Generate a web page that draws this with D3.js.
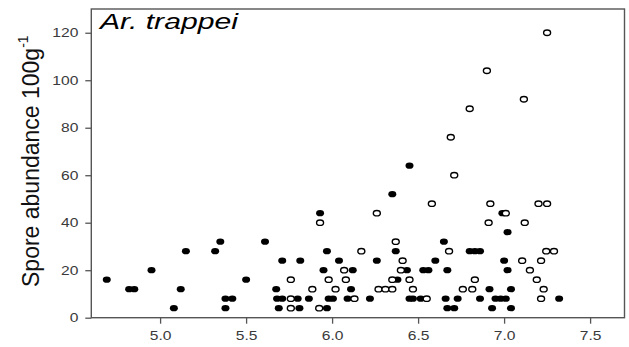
<!DOCTYPE html>
<html>
<head>
<meta charset="utf-8">
<script src="https://cdn.jsdelivr.net/npm/d3@7"></script>
<style>
  html, body { margin: 0; padding: 0; background: #fff; }
  svg { display: block; font-family: "Liberation Sans", Arial, sans-serif; }
</style>
</head>
<body>
<svg id="chart" width="629" height="347"></svg>
<script>
// ---- data (pH vs spore abundance) ----
const filledX = [4.69,4.82,4.85,4.95,5.08,5.12,5.15,5.32,5.35,5.38,5.42,5.38,5.50,5.61,5.675,5.68,5.71,5.69,5.71,5.815,
  5.80,5.81,5.865,5.93,5.97,5.95,5.98,6.005,5.97,6.04,6.12,6.11,6.09,6.22,6.26,6.35,6.45,6.37,6.38,6.435,
  6.45,6.47,6.515,6.53,6.56,6.60,6.65,6.67,6.66,6.67,6.71,6.73,6.80,6.83,6.86,6.86,6.915,6.95,6.98,7.01,
  6.93,6.99,7.02,7.00,7.02,7.04,7.04,7.32];
const filledY = [16,12,12,20,4,12,28,28,32,8,8,4,16,32,12,8,8,4,24,24,
  8,4,8,44,28,20,8,8,4,24,20,12,8,8,24,52,64,28,16,20,
  8,8,8,20,20,24,32,20,8,4,4,8,28,28,28,8,12,8,8,8,
  4,44,36,24,20,12,4,8];
const openX = [5.76,5.76,5.76,5.885,5.93,5.925,5.98,6.02,6.07,6.08,6.13,6.17,6.26,6.27,6.31,6.35,6.35,6.37,6.40,6.41,
  6.45,6.47,6.55,6.58,6.68,6.69,6.71,6.76,6.815,6.83,6.80,6.90,6.91,6.92,7.01,7.105,7.115,7.12,7.15,7.19,
  7.20,7.215,7.215,7.23,7.25,7.25,7.245,7.29];
const openY = [16,8,4,12,40,4,16,12,20,16,8,28,44,12,12,12,16,32,20,24,
  16,12,8,48,28,76,60,12,12,16,88,104,40,48,44,24,92,40,20,16,
  48,24,8,12,48,120,28,28];
const xTicks = [5.0,5.5,6.0,6.5,7.0,7.5];
const yTicks = [0,20,40,60,80,100,120];
const title = "Ar. trappei";
const yLabel = "Spore abundance 100g";
const yLabelSup = "-1";

// ---- layout ----
const svg = d3.select("#chart");
const mLeft = 91.3, mRight = 624.5, mTop = 9, mBottom = 317.7;
const x = d3.scaleLinear().domain([4.6, 7.7]).range([mLeft, mRight]);
const y = d3.scaleLinear().domain([0, 130]).range([mBottom, mTop]);
const axisColor = "#555";

// frame
svg.append("rect")
  .attr("x", mLeft).attr("y", mTop)
  .attr("width", mRight - mLeft).attr("height", mBottom - mTop)
  .attr("fill", "none").attr("stroke", axisColor).attr("stroke-width", 1.4);

// y axis
const gy = svg.append("g").attr("transform", `translate(${mLeft},0)`)
  .call(d3.axisLeft(y).tickValues(yTicks).tickSize(6).tickPadding(8));
gy.select(".domain").remove();
gy.selectAll(".tick line").attr("stroke", axisColor).attr("stroke-width", 1.3);
gy.selectAll(".tick text")
  .attr("fill", "#3a3a3a").attr("font-size", 12)
  .attr("x", -13 / 1.3)
  .attr("transform", "scale(1.3,1)");

// x axis
const gx = svg.append("g").attr("transform", `translate(0,${mBottom})`)
  .call(d3.axisBottom(x).tickValues(xTicks).tickSize(6).tickFormat(d3.format(".1f")));
gx.select(".domain").remove();
gx.selectAll(".tick line").attr("stroke", axisColor).attr("stroke-width", 1.3);
gx.selectAll(".tick text")
  .attr("fill", "#3a3a3a").attr("font-size", 12)
  .attr("y", 22.3).attr("dy", 0)
  .attr("transform", "scale(1.3,1)");

// points
const filled = filledX.map((v, i) => ({ x: v, y: filledY[i] }));
const open = openX.map((v, i) => ({ x: v, y: openY[i] }));

svg.append("g").selectAll("ellipse").data(filled).join("ellipse")
  .attr("cx", d => x(d.x)).attr("cy", d => y(d.y))
  .attr("rx", 4.0).attr("ry", 3.1)
  .attr("fill", "#000");

svg.append("g").selectAll("ellipse").data(open).join("ellipse")
  .attr("cx", d => x(d.x)).attr("cy", d => y(d.y))
  .attr("rx", 3.5).attr("ry", 2.7)
  .attr("fill", "#fff").attr("stroke", "#000").attr("stroke-width", 1.4);

// title
svg.append("text")
  .attr("transform", "translate(100,29) scale(1.37,1)")
  .attr("font-size", 22).attr("font-style", "italic").attr("fill", "#000")
  .text(title);

// y label
const yl = svg.append("text")
  .attr("transform", "translate(39,287) rotate(-90)")
  .attr("font-size", 23).attr("fill", "#111");
yl.append("tspan").text(yLabel);
yl.append("tspan").attr("font-size", 14).attr("dy", -11).text(yLabelSup);
</script>
</body>
</html>
